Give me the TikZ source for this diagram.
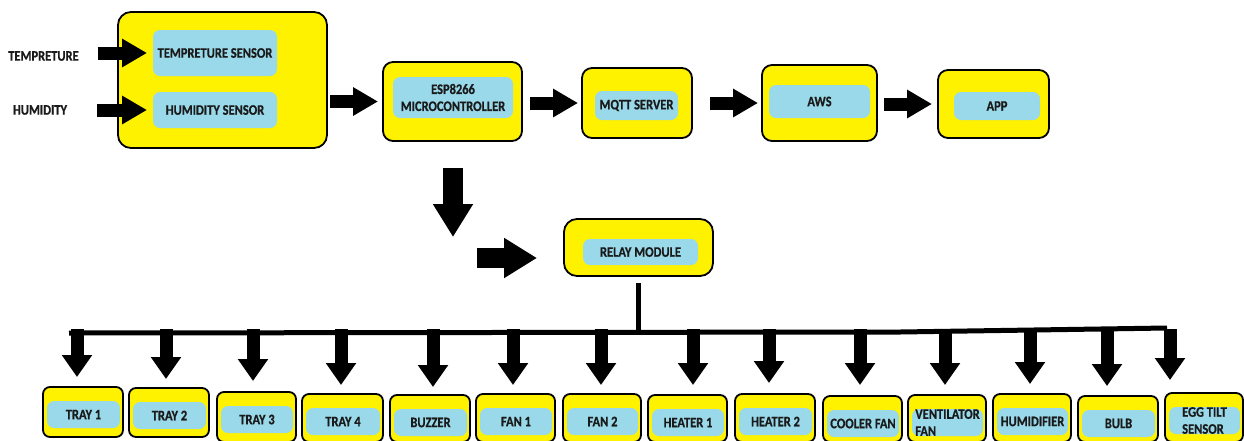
\documentclass[tikz,border=0pt]{standalone}
\usepackage{fontspec}
\setmainfont{Carlito}[FakeStretch=0.86,BoldFont={Carlito Bold},BoldFeatures={FakeStretch=0.86,FakeBold=0.6}]
\usetikzlibrary{arrows.meta}
\definecolor{yel}{HTML}{FFF200}
\definecolor{blu}{HTML}{99D9EA}
\definecolor{tx}{HTML}{1A1A1A}
\newcommand\YB[6][]{\node[ybox,#1,minimum width={(#5)-(#3)},minimum height={(#6)-(#4)}] (#2) at ({((#3)+(#5))/2},{((#4)+(#6))/2}) {};}
\newcommand\BB[7][]{\node[bbox,#1,minimum width={(#5)-(#3)},minimum height={(#6)-(#4)}] (#2) at ({((#3)+(#5))/2},{((#4)+(#6))/2}) {#7};}
\begin{document}
\begin{tikzpicture}[x=1pt,y=-1pt,
  ybox/.style={draw=black,line width=1.8pt,fill=yel,rounded corners=10pt,inner sep=0pt,outer sep=0pt},
  bbox/.style={fill=blu,rounded corners=7pt,inner sep=0pt,outer sep=0pt,text=tx,align=center,
     font=\fontsize{14.5}{17}\selectfont\bfseries},
  lbl/.style={inner sep=0pt,outer sep=0pt,text=tx,font=\fontsize{14.5}{17}\selectfont\bfseries},
  arrS/.style={draw=black,line width=13pt,-{Triangle[width=27pt,length=25pt]}},
  arrL/.style={draw=black,line width=20pt,-{Triangle[width=38pt,length=33pt]}},
  arrB/.style={draw=black,line width=13pt,-{Triangle[width=29pt,length=22pt]}},
  busline/.style={draw=black,line width=5pt,line join=miter}]
\fill[white] (0,0) rectangle (1244,440);
\useasboundingbox (0,0) rectangle (1244,440);
% sensors
\YB[rounded corners=13pt]{sens}{118}{12}{327}{148}
\BB{tsens}{153}{30}{277}{76}{TEMPRETURE SENSOR}
\BB{hsens}{153}{92}{277}{128}{HUMIDITY SENSOR}
\node[lbl] (tlab) at (43.5,56) {TEMPRETURE};
\node[lbl] (hlab) at (40,110) {HUMIDITY};
\draw[arrS,shorten <=19pt,shorten >=6pt] (tlab.east |- tsens.west) -- (tsens.west);
\draw[arrS,shorten <=30pt,shorten >=6pt] (hlab.east |- hsens.west) -- (hsens.west);
% top chain
\YB{espY}{383}{62}{522}{141}
\BB{esp}{393}{77}{513}{118}{ESP8266\\MICROCONTROLLER}
\YB{mqY}{582}{68}{692}{138}
\BB{mq}{595}{91}{678}{120}{MQTT SERVER}
\YB{awsY}{762}{65}{877}{141}
\BB{aws}{769}{85}{870}{118}{AWS}
\YB{appY}{938}{70}{1049}{138}
\BB{app}{954}{92}{1040}{120}{APP}
\draw[arrS,shorten <=3pt,shorten >=5pt] (sens.east |- espY.west) -- (espY.west);
\draw[arrS,shorten <=8pt,shorten >=4pt] (espY.east |- mqY.west) -- (mqY.west);
\draw[arrS,shorten <=18pt,shorten >=4pt] (mqY.east |- awsY.west) -- (awsY.west);
\draw[arrS,shorten <=7pt,shorten >=6pt] (awsY.east |- appY.west) -- (appY.west);
% relay
\YB[rounded corners=13pt]{relayY}{564}{219}{713}{276}
\BB{relay}{583}{239}{698}{265}{RELAY MODULE}
\coordinate (dtip) at (453,237);
\draw[arrL,shorten <=27pt] (espY.south -| dtip) -- (dtip);
\coordinate (rtail) at (477,258);
\draw[arrL,shorten >=27pt] (rtail) -- (rtail -| relayY.west);
% bus
\coordinate (busL) at (69,333);
\coordinate (busM) at (900,332);
\coordinate (busR) at (1167,328);
\coordinate (busTop) at (0,329);
\draw[busline,shorten <=7pt] (relayY.south) -- (relayY.south |- busL);
\draw[busline] (busL) -- (busM) -- (busR);
% outputs
\foreach \n/\xl/\xr/\yt/\yb/\ax/\ay/\txt in {
  1/43/123/387/437/77/377/{TRAY 1},
  2/129/209/388/437/166/379/{TRAY 2},
  3/217/296/392/442/253/381/{TRAY 3},
  4/302/383/394/442/341/385/{TRAY 4},
  5/390/470/395/442/433/387/{BUZZER},
  6/476/555/394/442/513/385/{FAN 1},
  7/563/641/394/442/601/385/{FAN 2},
  8/648/727/395/442/693/385/{HEATER 1},
  9/735/815/394/442/769/383/{HEATER 2},
  10/823/902/396/442/860/385/{COOLER FAN},
  11/908/986/395/442/945/385/{VENTILATOR\\FAN},
  12/993/1071/394/442/1030/384/{HUMIDIFIER},
  13/1078/1158/396/442/1107/386/{BULB},
  14/1165/1243/393/442/1170/380/{EGG TILT\\SENSOR}}{
  \YB[rounded corners=7pt]{y\n}{\xl}{\yt}{\xr}{\yb}
  \BB[align=left]{b\n}{\xl+4}{\yt+14}{\xr-3}{\yt+41}{\txt}
  \coordinate (a\n) at (\ax,\ay);
  \draw[arrB] (a\n |- busTop) -- (a\n);
}
\end{tikzpicture}
\end{document}
